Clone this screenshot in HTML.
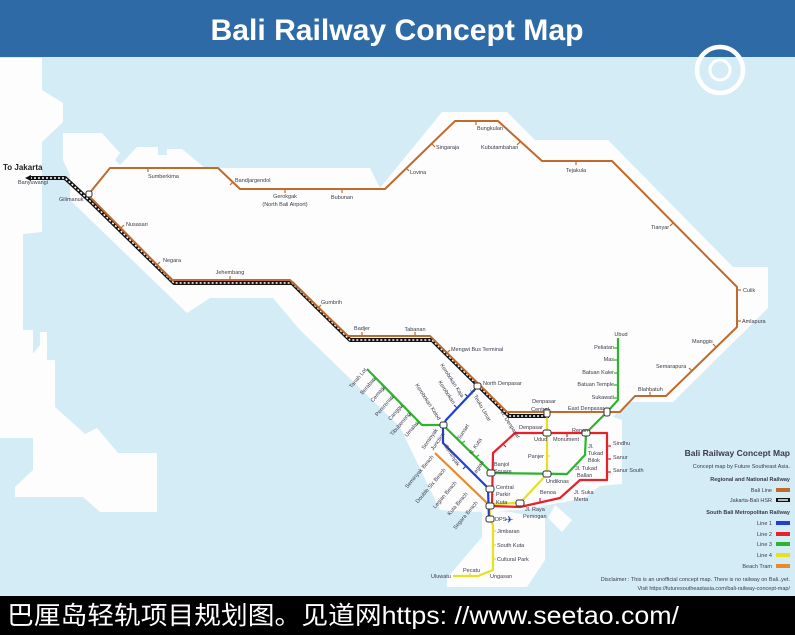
<!DOCTYPE html>
<html><head><meta charset="utf-8"><style>
html,body{margin:0;padding:0;width:795px;height:635px;overflow:hidden;background:#d4ecf5}
svg{display:block}
text{font-family:"Liberation Sans",sans-serif;fill:#3a3a4a}
.s{font-size:5.5px}
.l{font-size:6.5px}
</style></head><body>
<svg width="795" height="635" viewBox="0 0 795 635" xmlns="http://www.w3.org/2000/svg">
<rect width="795" height="635" fill="#d4ecf5"/>
<!-- land -->
<g fill="#fdfdfd">
<polygon points="0,58 42,58 42,90 63,103 63,122 42,142 42,232 23,234 23,330 33,330 33,438 0,438"/>
<polygon points="33,438 33,470 15,487 15,497 83,497 100,512 157,512 157,453 118,453 97,428 85,434 55,407 55,360 47,360 47,332 40,332 40,345 20,370 25,380 33,372"/>
<polygon points="63,133 102,133 120,153 115,160 120,165 137,147 158,147 158,155 167,155 167,149 182,149 205,168 370,168 380,188 442,112 507,112 535,140 608,140 733,267 768,267 768,308 673,402 627,402 613,417 622,420 622,484 600,486 585,498 548,505 520,510 470,512 440,510 400,427 300,330 273,298 210,298 187,313 70,200 70,175 63,160"/>
<polygon points="482,510 510,512 545,518 545,560 527,587 447,587 447,578 482,537"/>
<polygon points="555,505 572,520 562,532 548,518"/>
</g>
<!-- header -->
<rect x="0" y="0" width="795" height="57" fill="#2e6aa5"/>
<text x="397" y="40" text-anchor="middle" font-size="30" font-weight="bold" style="fill:#fff" textLength="373" lengthAdjust="spacingAndGlyphs">Bali Railway Concept Map</text>
<!-- logo -->
<circle cx="720" cy="70" r="23" fill="none" stroke="#fff" stroke-width="4.5"/>
<circle cx="720" cy="70" r="10" fill="none" stroke="#fff" stroke-width="3"/>
<!-- HSR -->
<g fill="none" stroke-linejoin="round">
<polyline points="30,178 65,178 90,201 174,283 292,283 350,340 432,340 509,416 549,416" stroke="#111" stroke-width="4"/>
<polyline points="30,178 65,178 90,201 174,283 292,283 350,340 432,340 509,416 549,416" stroke="#fff" stroke-width="1.5" stroke-dasharray="2 2"/>
<!-- Bali line -->
<polyline points="88,195 110,168 218,168 240,189 385,189 455,121 498,121 542,161 612,161 737,287 737,327 666,396 635,396 620,412 507,412 430,336 348,336 290,280 172,280 88,195" stroke="#c06a2b" stroke-width="2"/>
</g>
<g stroke="#c06a2b" stroke-width="1.2">
<line x1="148" y1="168" x2="148" y2="172"/><line x1="233" y1="182" x2="230" y2="185"/>
<line x1="285" y1="189" x2="285" y2="193"/><line x1="342" y1="189" x2="342" y2="193"/>
<line x1="406" y1="168" x2="409" y2="171"/><line x1="432" y1="144" x2="435" y2="147"/>
<line x1="476" y1="121" x2="476" y2="125"/><line x1="520" y1="142" x2="517" y2="145"/>
<line x1="576" y1="161" x2="576" y2="165"/><line x1="673" y1="223" x2="670" y2="226"/>
<line x1="737" y1="290" x2="741" y2="290"/><line x1="737" y1="321" x2="741" y2="321"/>
<line x1="716" y1="347" x2="713" y2="344"/><line x1="692" y1="371" x2="689" y2="368"/>
<line x1="650" y1="396" x2="650" y2="392"/><line x1="230" y1="280" x2="230" y2="276"/>
<line x1="157" y1="265" x2="160" y2="262"/><line x1="121" y1="228" x2="124" y2="225"/>
<line x1="318" y1="308" x2="321" y2="305"/><line x1="362" y1="336" x2="362" y2="332"/>
<line x1="415" y1="336" x2="415" y2="332"/><line x1="447" y1="353" x2="450" y2="350"/>
</g>
<path d="M25,178 l6,-3 v6 z" fill="#111"/>
<!-- metro lines -->
<g fill="none" stroke-width="2.2" stroke-linejoin="round">
<polyline points="487,503 435,453" stroke="#e88a2a"/>
<polyline points="547,413 547,474 520,503 490,504 490,520 493,525 493,570 478,576 453,576" stroke="#e6e020"/>
<polyline points="492,506 520,507 560,498 580,480 607,480 607,433 515,433 493,453 492,506" stroke="#e8202a"/>
<polyline points="367,369 422,425 443,425 492,473 567,474 585,455 586,433 607,412 618,400 618,338" stroke="#2db32d"/>
<polyline points="478,386 446,420 443,426 443,443 488,488 489,520" stroke="#1f3fd8"/>
</g>
<g stroke-width="1.2">
<g stroke="#2db32d"><line x1="614" y1="348" x2="618" y2="348"/><line x1="614" y1="360" x2="618" y2="360"/><line x1="614" y1="373" x2="618" y2="373"/><line x1="614" y1="385" x2="618" y2="385"/><line x1="614" y1="398" x2="618" y2="398"/><line x1="376" y1="378" x2="374" y2="381"/><line x1="385" y1="387" x2="383" y2="390"/><line x1="394" y1="396" x2="392" y2="399"/><line x1="403" y1="405" x2="401" y2="408"/><line x1="411" y1="413" x2="409" y2="416"/><line x1="419" y1="422" x2="417" y2="425"/><line x1="462" y1="443" x2="465" y2="441"/><line x1="476" y1="457" x2="479" y2="455"/></g>
<g stroke="#1f3fd8"><line x1="468" y1="397" x2="465" y2="394"/><line x1="457" y1="408" x2="454" y2="405"/><line x1="466" y1="466" x2="463" y2="469"/></g>
<g stroke="#e8202a"><line x1="540" y1="502" x2="540" y2="498"/><line x1="607" y1="446" x2="611" y2="446"/><line x1="607" y1="459" x2="611" y2="459"/><line x1="607" y1="472" x2="611" y2="472"/><line x1="567" y1="433" x2="567" y2="437"/><line x1="503" y1="444" x2="506" y2="447"/></g>
<g stroke="#e6e020"><line x1="493" y1="531" x2="496" y2="531"/><line x1="493" y1="545" x2="496" y2="545"/><line x1="493" y1="559" x2="496" y2="559"/><line x1="470" y1="576" x2="470" y2="573"/><line x1="547" y1="456" x2="550" y2="456"/></g>
</g>
<!-- interchanges -->
<g fill="#fff" stroke="#333" stroke-width="1">
<rect x="86" y="191" width="6" height="6" rx="2"/>
<rect x="474" y="383" width="7" height="6" rx="2"/>
<rect x="544" y="409" width="6" height="8" rx="2"/>
<rect x="604" y="408" width="6" height="8" rx="2"/>
<rect x="440" y="422" width="7" height="6" rx="2"/>
<rect x="543" y="430" width="8" height="6" rx="2"/>
<rect x="582" y="430" width="8" height="6" rx="2"/>
<rect x="487" y="470" width="8" height="6" rx="2"/>
<rect x="543" y="471" width="8" height="6" rx="2"/>
<rect x="486" y="486" width="8" height="6" rx="2"/>
<rect x="486" y="503" width="8" height="6" rx="2"/>
<rect x="516" y="500" width="8" height="6" rx="2"/>
<rect x="486" y="516" width="8" height="6" rx="2"/>
</g>
<text x="505" y="523" font-size="10" style="fill:#1f3fd8">✈</text>
<!-- labels -->
<g class="s">
<text x="3" y="170" font-size="8" font-weight="bold" style="fill:#222">To Jakarta</text>
<text x="18" y="184">Banyuwangi</text>
<text x="59" y="201">Gilimanuk</text>
<text x="148" y="178">Sumberkima</text>
<text x="235" y="182">Bandjargendol</text>
<text x="285" y="198" text-anchor="middle">Gerokgak</text>
<text x="285" y="206" text-anchor="middle">(North Bali Airport)</text>
<text x="342" y="199" text-anchor="middle">Bubunan</text>
<text x="410" y="174">Lovina</text>
<text x="436" y="149">Singaraja</text>
<text x="477" y="130">Bungkulan</text>
<text x="481" y="149">Kubutambahan</text>
<text x="576" y="172" text-anchor="middle">Tejakula</text>
<text x="651" y="229">Tianyar</text>
<text x="743" y="292">Culik</text>
<text x="742" y="323">Amlapura</text>
<text x="692" y="343">Manggis</text>
<text x="656" y="368">Semarapura</text>
<text x="638" y="391">Blahbatuh</text>
<text x="568" y="410">East Denpasar</text>
<text x="544" y="403" text-anchor="middle">Denpasar</text>
<text x="540" y="411" text-anchor="middle">Central</text>
<text x="483" y="385">North Denpasar</text>
<text x="451" y="351">Mengwi Bus Terminal</text>
<text x="415" y="331" text-anchor="middle">Tabanan</text>
<text x="362" y="330" text-anchor="middle">Badjer</text>
<text x="321" y="304">Gumbrih</text>
<text x="230" y="274" text-anchor="middle">Jehembang</text>
<text x="163" y="262">Negara</text>
<text x="126" y="226">Nusasari</text>
<text x="621" y="336" text-anchor="middle">Ubud</text>
<text x="614" y="349" text-anchor="end">Peliatan</text>
<text x="614" y="361" text-anchor="end">Mas</text>
<text x="614" y="374" text-anchor="end">Batuan Kaler</text>
<text x="614" y="386" text-anchor="end">Batuan Temple</text>
<text x="614" y="399" text-anchor="end">Sukawati</text>
<text x="519" y="429">Denpasar</text>
<text x="534" y="441">Udud</text>
<text x="553" y="441">Monument</text>
<text x="572" y="432">Renon</text>
<text x="588" y="448">Jl.</text>
<text x="588" y="455">Tukad</text>
<text x="588" y="462">Bilok</text>
<text x="575" y="470">Jl. Tukad</text>
<text x="577" y="477">Ballan</text>
<text x="528" y="458">Panjer</text>
<text x="546" y="483">Undiknas</text>
<text x="613" y="445">Sindhu</text>
<text x="613" y="459">Sanur</text>
<text x="613" y="472">Sanur South</text>
<text x="540" y="494">Benoa</text>
<text x="574" y="494">Jl. Suka</text>
<text x="574" y="501">Merta</text>
<text x="494" y="466">Banjol</text>
<text x="494" y="473">Square</text>
<text x="496" y="489">Central</text>
<text x="496" y="496">Parkir</text>
<text x="496" y="504">Kuta</text>
<text x="525" y="511">Jl. Raya</text>
<text x="523" y="518">Pemogan</text>
<text x="495" y="521">DPS</text>
<text x="497" y="533">Jimbaran</text>
<text x="497" y="547">South Kuta</text>
<text x="497" y="561">Cultural Park</text>
<text x="490" y="578">Ungasan</text>
<text x="463" y="572">Pecatu</text>
<text x="431" y="578">Uluwatu</text>
</g>
<!-- rotated labels -->
<g class="s" text-anchor="end">
<text transform="translate(367,370) rotate(-50)">Tanah Lot</text>
<text transform="translate(376,379) rotate(-50)">Beraban</text>
<text transform="translate(385,388) rotate(-50)">Cemagi</text>
<text transform="translate(394,397) rotate(-50)">Pererenan</text>
<text transform="translate(403,406) rotate(-50)">Canggu</text>
<text transform="translate(411,414) rotate(-50)">Tibubeneng</text>
<text transform="translate(419,423) rotate(-50)">Umalas</text>
<text transform="translate(438,430) rotate(-55)">Seminyak</text>
<text transform="translate(445,434) rotate(-55)">Junction</text>
<text transform="translate(434,457) rotate(-50)">Seminyak Beach</text>
<text transform="translate(446,470) rotate(-50)">Double Six Beach</text>
<text transform="translate(457,483) rotate(-50)">Legian Beach</text>
<text transform="translate(468,494) rotate(-50)">Kuta Beach</text>
<text transform="translate(478,503) rotate(-50)">Segara Beach</text>
</g>
<g class="s">
<text transform="translate(440,365) rotate(57)">Kerobokan Kaja</text>
<text transform="translate(438,382) rotate(57)">Kerobokan</text>
<text transform="translate(415,385) rotate(57)">Kerobokan Kelod</text>
<text transform="translate(444,446) rotate(57)">Seminyak</text>
<text transform="translate(470,390) rotate(60)">Jl. Teuku Umar</text>
<text transform="translate(500,412) rotate(57)">W. Denpasar</text>
<text transform="translate(460,440) rotate(-57)">Sunset</text>
<text transform="translate(472,455) rotate(-57)">N. Kuta</text>
<text transform="translate(475,476) rotate(-57)">Legian</text>
</g>
<!-- legend -->
<g text-anchor="end">
<text x="790" y="456" font-size="8.5" font-weight="bold">Bali Railway Concept Map</text>
<text x="790" y="468" class="s">Concept map by Future Southeast Asia.</text>
<text x="790" y="481" class="s" font-weight="bold">Regional and National Railway</text>
<text x="772" y="492" class="s">Bali Line</text>
<text x="772" y="502" class="s">Jakarta-Bali HSR</text>
<text x="790" y="514" class="s" font-weight="bold">South Bali Metropolitan Railway</text>
<text x="772" y="525" class="s">Line 1</text>
<text x="772" y="536" class="s">Line 2</text>
<text x="772" y="546" class="s">Line 3</text>
<text x="772" y="557" class="s">Line 4</text>
<text x="772" y="568" class="s">Beach Tram</text>
<text x="790" y="581" class="s">Disclaimer : This is an unofficial concept map. There is no railway on Bali..yet.</text>
<text x="790" y="590" class="s">Visit https://futuresoutheastasia.com/bali-railway-concept-map/</text>
</g>
<rect x="776" y="488" width="14" height="4" fill="#c06a2b"/>
<rect x="776" y="498" width="14" height="4" fill="#111"/>
<rect x="778" y="499.3" width="10" height="1.4" fill="#fff"/>
<rect x="776" y="521" width="14" height="4" fill="#1f3fd8"/>
<rect x="776" y="532" width="14" height="4" fill="#e8202a"/>
<rect x="776" y="542" width="14" height="4" fill="#2db32d"/>
<rect x="776" y="553" width="14" height="4" fill="#e6e020"/>
<rect x="776" y="564" width="14" height="4" fill="#e88a2a"/>
<!-- bottom bar -->
<rect x="0" y="596" width="795" height="39" fill="#000"/>
<text x="7" y="624" font-size="25" style="fill:#fff;font-family:'Liberation Sans','Noto Sans CJK SC',sans-serif" textLength="672" lengthAdjust="spacingAndGlyphs">巴厘岛轻轨项目规划图。见道网https: //www.seetao.com/</text>
</svg>
</body></html>
